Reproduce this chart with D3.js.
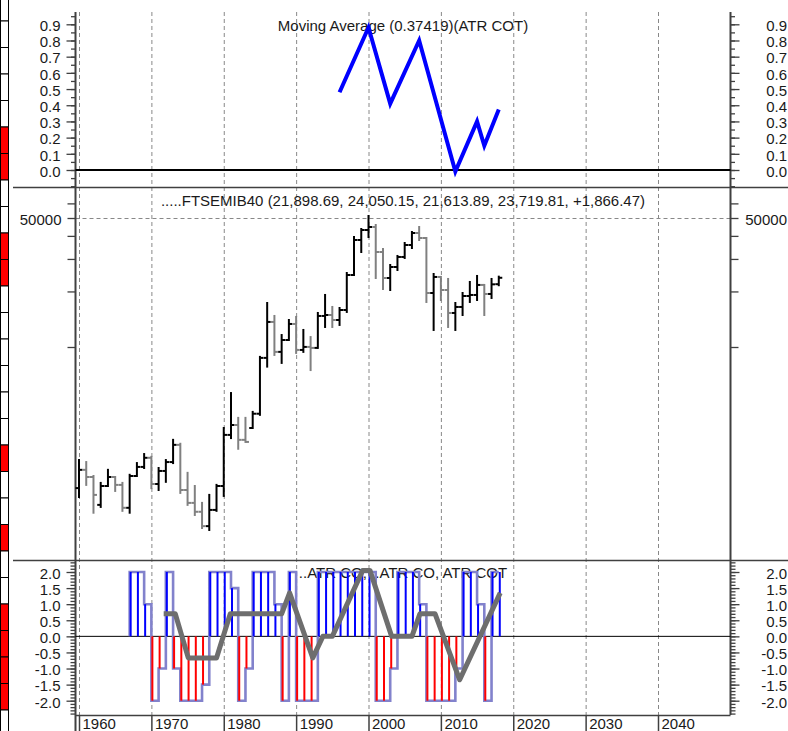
<!DOCTYPE html>
<html><head><meta charset="utf-8">
<script src="https://cdn.jsdelivr.net/npm/d3@7"></script>
<style>
body{margin:0;background:#fff;}
svg{display:block;}
text{font-family:"Liberation Sans",Arial,sans-serif;}
</style>
</head><body>
<script>
// ---------------- DATA ----------------
const years = d3.range(1960, 2019);
const openP  = [1720,2160,1975,1395,1765,1975,1790,1345,2000,2240,2510,1810,2130,2380,2950,1680,1430,1280,1070,1310,1765,3340,3780,3140,3640,4350,8730,13670,9410,10910,13330,9640,10010,9890,14730,14910,14010,15870,24560,38000,43050,44690,32720,23660,27140,30750,35700,41470,38960,19620,23960,20370,15290,16480,18900,19140,21690,19380,21899];
const highP  = [2440,2380,2000,1835,2160,1975,1835,2030,2350,2630,2540,2210,2440,3140,2990,2080,1765,1430,1580,1790,3640,5630,4130,4130,4450,8840,17320,14730,11610,14010,14550,12370,11320,15290,19140,16480,16270,25180,39450,43590,51260,45820,33960,27820,31140,36600,41990,44690,38960,24870,23960,23370,17320,19620,22510,24260,21690,23370,24050];
const lowP   = [1540,1790,1265,1360,1765,1660,1295,1265,2000,2210,1720,1680,1860,2350,1620,1395,1230,1045,1020,1295,1560,3210,2810,3060,3640,4290,7830,9060,8200,10910,9290,9410,7500,9890,12840,12840,13170,15490,24560,32720,39450,23660,20620,20370,26140,30370,34390,38000,17540,12370,17980,12840,12370,14910,17540,17980,14910,18440,21614];
const closeP = [2160,1975,1580,1765,1975,1790,1345,2000,2240,2510,1810,2130,2380,2950,1680,1430,1280,1070,1310,1765,3340,3780,3140,3060,4350,8730,13670,9410,10910,13330,9640,10010,9890,14730,14910,14010,15870,24560,38000,43050,44690,32720,23660,27140,30750,35700,41470,38960,19620,23960,20370,15290,16480,18900,19140,21690,19380,21853,23720];

// Moving Average (ATR COT) - top panel
const maYears  = [1996, 2000, 2003, 2007, 2012, 2015, 2016, 2018];
const maValues = [0.48, 0.88, 0.41, 0.80, -0.01, 0.30, 0.15, 0.374];

// ATR COT histogram - bottom panel
const cotYears  = d3.range(1967, 2019);
const cotValues = [2,2,1,-2,-1,2,-1,-2,-2,-2,-1.5,2,2,2,1.5,-2,-1,2,2,2,1,-2,2,-2,-2,-2,2,2,2,2,2,2,2,2,-2,-2,-1,2,2,2,1,-2,-2,-2,-2,-1,2,2,1,-2,2,2];

// ATR COT smoothed line (gray)
const grayYears  = [1971.7,1973.3,1975.1,1979,1980.9,1988,1989.1,1992.3,1993.7,1995,1999.2,2000.2,2003.2,2006,2007.1,2009.2,2012.6,2018.2];
const grayValues = [0.7,0.7,-0.67,-0.67,0.7,0.7,1.35,-0.67,0,0,2.05,2.05,0,0,0.7,0.7,-1.35,1.35];

// ticks / labels
const decadeTicks = d3.range(1960, 2041, 10);
const topTicks = [0,0.1,0.2,0.3,0.4,0.5,0.6,0.7,0.8,0.9];
const topMinor = d3.range(-0.1, 0.96, 0.05);
const priceTicks = [10000,20000,30000,40000,50000,60000];
const priceLabels = [50000];
const botTicks = [2,1.5,1,0.5,0,-0.5,-1,-1.5,-2];
const botMinor = d3.range(-2.4, 2.35, 0.1);
const stripRed = [5,6,9,10,17,20,23,24,25,26];

const topTitle = "Moving Average (0.37419)(ATR COT)";
const midTitle = ".....FTSEMIB40 (21,898.69, 24,050.15, 21,613.89, 23,719.81, +1,866.47)";
const botTitle = "..ATR CO, ..ATR CO, ATR COT";

// ---------------- LAYOUT ----------------
const W = 788, H = 731;
const L = 75.5, R = 730.5;
const yTopStart = 12, sep1 = 187, sep2 = 560, axY = 715;
const axisColor = "#404040", textColor = "#1a1a1a";
const FS = 15;

const svg = d3.select("body").append("svg").attr("width", W).attr("height", H);

const x = d3.scaleLinear().domain([1960, 2040]).range([79, 658]);
const yTop = d3.scaleLinear().domain([0, 0.9]).range([170, 24.3]);
const yMid = d3.scaleLog().domain([10000, 50000]).range([347, 218]);
const yBot = d3.scaleLinear().domain([-2, 2]).range([700.7, 572]);

// left strip of cells
const cellH = 26.5, cellStart = -5.5;
svg.append("g").selectAll("rect").data(d3.range(29)).join("rect")
  .attr("x", 0.5).attr("y", k => cellStart + k * cellH)
  .attr("width", 8).attr("height", cellH)
  .attr("fill", k => stripRed.includes(k) ? "#ff0000" : "#ffffff")
  .attr("stroke", "#000").attr("stroke-width", 1);

// vertical dashed grid
svg.append("g").attr("transform", `translate(0,${yTopStart})`)
  .call(d3.axisBottom(x).tickValues(decadeTicks).tickSize(axY - yTopStart).tickFormat(""))
  .call(g => g.select(".domain").remove())
  .call(g => g.selectAll("line").attr("stroke", "#888").attr("stroke-dasharray", "4,3"));

// horizontal dashed grid at 50000
svg.append("g").attr("transform", `translate(${L},0)`)
  .call(d3.axisRight(yMid).tickValues(priceLabels).tickSize(R - L).tickFormat(""))
  .call(g => g.select(".domain").remove())
  .call(g => g.selectAll("line").attr("stroke", "#888").attr("stroke-dasharray", "4,3"));

// panel separators
[sep1, sep2].forEach(s => svg.append("line").attr("x1", 13).attr("x2", W).attr("y1", s + 0.5).attr("y2", s + 0.5)
  .attr("stroke", axisColor).attr("stroke-width", 1.5));

// vertical axis lines
svg.append("line").attr("x1", L).attr("x2", L).attr("y1", yTopStart).attr("y2", H).attr("stroke", axisColor).attr("stroke-width", 2);
svg.append("line").attr("x1", R).attr("x2", R).attr("y1", yTopStart).attr("y2", axY).attr("stroke", axisColor).attr("stroke-width", 2);
// bottom axis line
svg.append("line").attr("x1", L).attr("x2", R).attr("y1", axY + 0.5).attr("y2", axY + 0.5).attr("stroke", axisColor).attr("stroke-width", 1.5);

function styleAxis(g) {
  g.select(".domain").remove();
  g.attr("font-size", FS).attr("font-family", '"Liberation Sans",Arial,sans-serif');
  g.selectAll("line").attr("stroke", axisColor).attr("stroke-width", 1.3);
  g.selectAll("text").attr("fill", textColor);
}
const fmt1 = d => d.toFixed(1);

function sideAxes(scale, major, minor, fmt, majLen, minLen) {
  svg.append("g").attr("transform", `translate(${L},0)`)
    .call(d3.axisLeft(scale).tickValues(minor).tickSize(minLen).tickFormat(""))
    .call(styleAxis);
  svg.append("g").attr("transform", `translate(${L},0)`)
    .call(d3.axisLeft(scale).tickValues(major).tickSize(majLen).tickPadding(6).tickFormat(fmt))
    .call(styleAxis)
    .call(g => g.selectAll("text").attr("dy", "0.42em"));
  svg.append("g").attr("transform", `translate(${R},0)`)
    .call(d3.axisRight(scale).tickValues(minor).tickSize(minLen).tickFormat(""))
    .call(styleAxis);
  svg.append("g").attr("transform", `translate(${R},0)`)
    .call(d3.axisRight(scale).tickValues(major).tickSize(majLen).tickFormat(fmt))
    .call(styleAxis)
    .call(g => g.selectAll("text").attr("x", 787 - R).attr("text-anchor", "end").attr("dy", "0.42em"));
}

sideAxes(yTop, topTicks, topMinor, fmt1, 9, 4.5);
sideAxes(yMid, priceTicks, [], d => priceLabels.includes(d) ? String(d) : "", 8, 4);
sideAxes(yBot, botTicks, botMinor, fmt1, 9, 5);

// x axis at bottom
svg.append("g").attr("transform", `translate(0,${axY})`)
  .call(d3.axisBottom(x).tickValues(decadeTicks).tickSize(16).tickFormat(d3.format("d")))
  .call(styleAxis)
  .call(g => g.selectAll("line").attr("stroke-width", 1.5))
  .call(g => g.selectAll("text").attr("x", 3).attr("y", 3).attr("dy", "0.71em").attr("text-anchor", "start"));

// ---------------- TOP PANEL ----------------
const midX = (L + R) / 2;
svg.append("text").attr("x", midX).attr("y", 31).attr("text-anchor", "middle")
  .attr("font-size", FS).attr("fill", textColor).text(topTitle);
svg.append("line").attr("x1", L).attr("x2", R).attr("y1", yTop(0)).attr("y2", yTop(0))
  .attr("stroke", "#000").attr("stroke-width", 2);
svg.append("path")
  .datum(maYears.map((yr, i) => [yr, maValues[i]]))
  .attr("fill", "none").attr("stroke", "#0000ff").attr("stroke-width", 4)
  .attr("stroke-linejoin", "miter")
  .attr("d", d3.line().x(d => x(d[0])).y(d => yTop(d[1])));

// ---------------- MIDDLE PANEL ----------------
svg.append("text").attr("x", midX).attr("y", 206).attr("text-anchor", "middle")
  .attr("font-size", FS).attr("fill", textColor).text(midTitle);

const bars = svg.append("g");
years.forEach((yr, i) => {
  const up = closeP[i] >= openP[i];
  const col = up ? "#000000" : "#808080";
  const cx = x(yr);
  const g = bars.append("g").attr("stroke", col).attr("stroke-width", 2);
  g.append("line").attr("x1", cx).attr("x2", cx).attr("y1", yMid(highP[i]) - 1).attr("y2", yMid(lowP[i]) + 1);
  g.append("line").attr("x1", cx - 3.5).attr("x2", cx).attr("y1", yMid(openP[i])).attr("y2", yMid(openP[i]));
  g.append("line").attr("x1", cx).attr("x2", cx + 3.5).attr("y1", yMid(closeP[i])).attr("y2", yMid(closeP[i]));
});

// ---------------- BOTTOM PANEL ----------------
svg.append("text").attr("x", midX).attr("y", 578).attr("text-anchor", "middle")
  .attr("font-size", FS).attr("fill", textColor).text(botTitle);
svg.append("line").attr("x1", L).attr("x2", R).attr("y1", yBot(0)).attr("y2", yBot(0))
  .attr("stroke", "#000").attr("stroke-width", 1);

const cotData = cotYears.map((yr, i) => [yr, cotValues[i]]);
svg.append("path").datum(cotData)
  .attr("fill", "none").attr("stroke", "#8282cc").attr("stroke-width", 2.6)
  .attr("d", d => `M${x(d[0][0])},${yBot(0)}` + d3.line().curve(d3.curveStepAfter).x(p => x(p[0])).y(p => yBot(p[1]))(d).replace(/^M/, "L"));
svg.append("g").selectAll("line").data(cotData).join("line")
  .attr("x1", d => x(d[0]) + 1).attr("x2", d => x(d[0]) + 1)
  .attr("y1", yBot(0)).attr("y2", d => yBot(d[1]))
  .attr("stroke", d => d[1] > 0 ? "#0000ff" : "#ff0000").attr("stroke-width", 2);
svg.append("path")
  .datum(grayYears.map((yr, i) => [yr, grayValues[i]]))
  .attr("fill", "none").attr("stroke", "#6e6e6e").attr("stroke-width", 5)
  .attr("stroke-linejoin", "round")
  .attr("d", d3.line().x(d => x(d[0])).y(d => yBot(d[1])));
</script>
</body></html>
